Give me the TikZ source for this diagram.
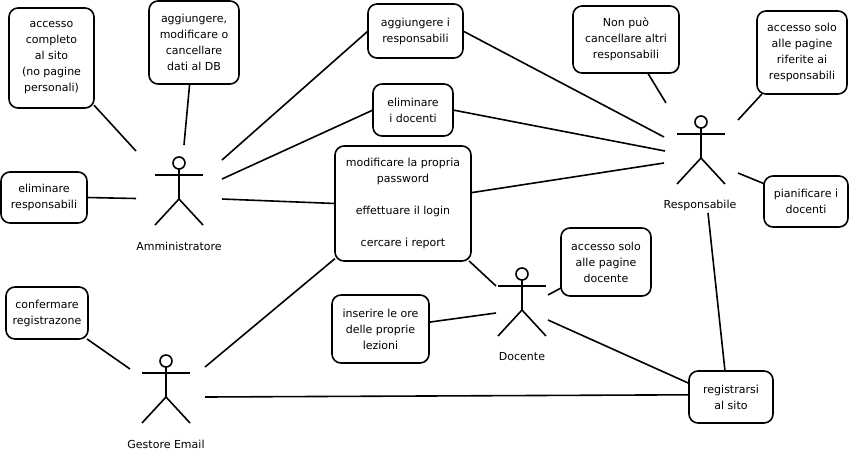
\documentclass[tikz,border=0pt]{standalone}
\usepackage{fontspec}
\setmainfont{DejaVu Sans}
\tikzset{
    usecase/.style={draw, rectangle, rounded corners=9pt, line width=1.6pt, outer sep=0pt, inner sep=0pt, align=center, font=\fontsize{11}{16}\selectfont, execute at begin node={\vspace*{2pt}}},
    actorname/.style={inner sep=0pt, font=\fontsize{11}{16}\selectfont},
    link/.style={line width=1.6pt},
    actor/.pic={
        \draw[link] (0,0) circle (6);
        \draw[link] (-24,12) -- (24,12);
        \draw[link] (0,6) -- (0,36);
        \draw[link] (-24,62) -- (0,36) -- (24,62);
    }
}
\begin{document}
\begin{tikzpicture}[x=1pt,y=-1pt]
    \useasboundingbox (0,0) rectangle (851,453);

    % Amministratore
    \pic at (179,163) {actor};
    \node[actorname] (amm) at (179,246) {Amministratore};
    \coordinate (ammA) at (136,151);
    \coordinate (ammB) at (184,145);
    \coordinate (ammC) at (136,198.5);
    \coordinate (ammD) at (222,160);
    \coordinate (ammE) at (222,179);
    \coordinate (ammF) at (222,199);

    % Responsabile
    \pic at (701,122) {actor};
    \node[actorname] (res) at (700,205) {Responsabile};
    \coordinate (resD) at (664,137);
    \coordinate (resE) at (665,151);
    \coordinate (resF) at (664,163);
    \coordinate (resG) at (666,103);
    \coordinate (resH) at (738,120);
    \coordinate (resI) at (738,173);
    \coordinate (resM) at (708,213);

    % Docente
    \pic at (522,274) {actor};
    \node[actorname] (doc) at (522,357) {Docente};
    \coordinate (docF) at (496,286);
    \coordinate (docJ) at (548,295);
    \coordinate (docK) at (496,313);
    \coordinate (docM) at (548,320);

    % Gestore Email
    \pic at (166,361) {actor};
    \node[actorname] (ges) at (166,444) {Gestore Email};
    \coordinate (gesF) at (205,367);
    \coordinate (gesL) at (130,369);
    \coordinate (gesM) at (205,397);

    % Use cases
    \node[usecase, minimum width=85pt, minimum height=100pt] (accesso) at (51.5,58) {accesso\\completo\\al sito\\(no pagine\\personali)};
    \node[usecase, minimum width=90pt, minimum height=83pt] (dati) at (194,42.5) {aggiungere,\\modificare o\\cancellare\\dati al DB};
    \node[usecase, minimum width=86pt, minimum height=51pt] (elimres) at (44,197.5) {eliminare\\responsabili};
    \node[usecase, minimum width=95pt, minimum height=54pt] (aggres) at (415.5,31) {aggiungere i\\responsabili};
    \node[usecase, minimum width=80pt, minimum height=52pt] (elimdoc) at (413,110) {eliminare\\i docenti};
    \node[usecase, minimum width=136pt, minimum height=115pt] (comuni) at (403,203.5) {modificare la propria\\password\\\\effettuare il login\\\\cercare i report};
    \node[usecase, minimum width=106pt, minimum height=67pt] (nonpuo) at (626,39.5) {Non può\\cancellare altri\\responsabili};
    \node[usecase, minimum width=90pt, minimum height=83pt] (pagres) at (802,52.5) {accesso solo\\alle pagine\\riferite ai\\responsabili};
    \node[usecase, minimum width=84pt, minimum height=51pt] (pian) at (806,201.5) {pianificare i\\docenti};
    \node[usecase, minimum width=90pt, minimum height=68pt] (pagdoc) at (606,262) {accesso solo\\alle pagine\\docente};
    \node[usecase, minimum width=97pt, minimum height=68pt] (ore) at (380.5,329) {inserire le ore\\delle proprie\\lezioni};
    \node[usecase, minimum width=82pt, minimum height=52pt] (conf) at (47,313) {confermare\\registrazone};
    \node[usecase, minimum width=84pt, minimum height=52pt] (reg) at (731,397) {registrarsi\\al sito};

    % Connections
    \draw[link] (accesso.-48) -- (ammA);
    \draw[link] (dati.264.5) -- (ammB);
    \draw[link] (elimres.east) -- (ammC);
    \draw[link] (ammD) -- (aggres.west);
    \draw[link] (ammE) -- (elimdoc.west);
    \draw[link] (ammF) -- (comuni.west);
    \draw[link] (aggres.east) -- (resD);
    \draw[link] (elimdoc.east) -- (resE);
    \draw[link] (comuni.9.6) -- (resF);
    \draw[link] (nonpuo.-57) -- (resG);
    \draw[link] (pagres.226.4) -- (resH);
    \draw[link] (pian.157.4) -- (resI);
    \draw[link] (resM) -- (reg.103);
    \draw[link] (comuni.-41) -- (docF);
    \draw[link] (docJ) -- (pagdoc.210);
    \draw[link] (ore.8.2) -- (docK);
    \draw[link] (docM) -- (reg.162.8);
    \draw[link] (comuni.219.7) -- (gesF);
    \draw[link] (conf.-33.4) -- (gesL);
    \draw[link] (gesM) -- (reg.177.3);
\end{tikzpicture}
\end{document}
